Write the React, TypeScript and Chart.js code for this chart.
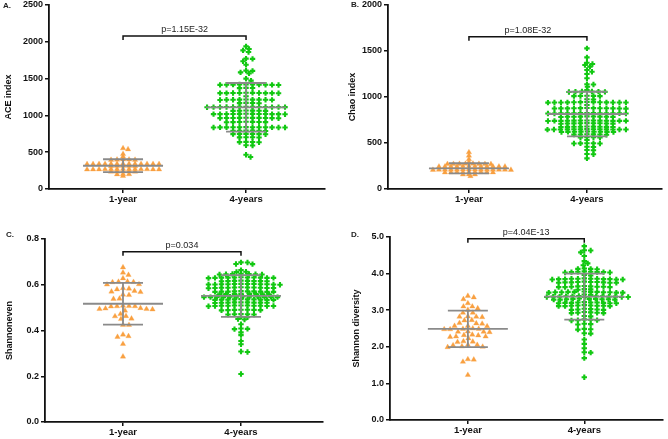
import React, { useEffect, useRef } from "react";
import { Chart, registerables } from "chart.js";

Chart.register(...registerables);

// ---------------- data ----------------
const categories = ["1-year", "4-years"];

// A. ACE index
const aceYear1 = [553, 539, 475, 439, 400, 398, 395, 402, 396,
  342, 340, 338, 341, 339, 343, 340, 337, 341, 339, 342, 338, 340,
  314, 311, 313, 310, 312,
  270, 268, 266, 269, 267, 271, 268, 265, 269, 267, 270, 266, 268,
  238, 236, 234, 237, 235, 202, 199, 201, 177];
const aceYear4 = [1938, 1902, 1884, 1861, 1771, 1768, 1735, 1689, 1608, 1605, 1585, 1571, 1499, 1472,
  1418, 1415, 1420, 1416, 1419, 1414, 1417, 1421, 1415, 1418,
  1372, 1370, 1374,
  1305, 1302, 1306, 1303, 1304, 1301, 1307, 1303, 1305, 1302,
  1260,
  1214, 1212, 1215, 1211, 1213, 1216, 1210, 1213, 1214,
  1168, 1166, 1170, 1167,
  1115, 1112, 1116, 1113, 1114, 1111, 1117, 1114, 1112, 1115, 1113, 1116, 1112,
  1065, 1062, 1066, 1063, 1064, 1061,
  1020, 1018, 1021, 1017, 1019, 1022, 1016, 1019, 1020, 1018, 1021, 1017,
  966, 963, 967, 964, 965, 962, 968, 964, 966, 963,
  911, 908, 912, 909, 910, 907, 913,
  839, 836, 840, 837, 838, 835, 841, 837, 839, 836, 840, 837,
  793, 790, 794, 791, 792, 789,
  748, 745, 749, 746, 747, 744,
  703, 700, 704, 701,
  639, 636, 640, 637,
  595, 592,
  466, 435];
const aceMean = [316, 1110];
const aceSD = [88, 330];

// B. Chao index
const chaoYear1 = [399, 362, 323, 290,
  274, 271, 273, 270, 272, 275, 271, 273,
  246, 244, 247, 243, 245, 248, 244, 246, 243, 247, 245, 244,
  211, 209, 212, 208, 210, 213, 209, 211, 208, 212, 210, 209, 211, 210,
  183, 181, 184, 180, 182, 185, 181, 183, 182,
  159, 157, 158, 140];
const chaoYear4 = [1529, 1431, 1373, 1359, 1348, 1330, 1293, 1275, 1250, 1203, 1138, 1136, 1112, 1076,
  1059, 1056, 1060, 1057, 1058, 1055,
  1012, 1009, 1013, 1010, 1011,
  976, 973,
  943, 940, 944, 941, 942, 939, 945, 941, 943, 940, 944, 941, 942,
  913,
  878, 875, 879, 876, 877, 874, 880, 876, 878, 875, 879, 876,
  824, 821, 825, 822, 823, 820, 826, 822, 824, 821, 825, 822, 823,
  787, 784, 788, 785, 786, 783, 789, 785, 787,
  743, 740, 744, 741, 742, 739, 745, 741, 743, 740, 744, 741, 742,
  714, 711, 715, 712, 713, 710, 716, 712, 714,
  677, 674, 678, 675, 676, 673, 679, 675, 677,
  649, 646, 650, 647, 648, 645, 651, 647, 649, 646, 650, 647, 648,
  623, 620, 624, 621, 622, 619, 625, 621, 623,
  594, 591, 595, 592, 593, 590,
  562, 559, 563, 560,
  533,
  497, 494, 498, 495, 496,
  460, 457, 424, 421, 380, 377, 333];
const chaoMean = [225, 815];
const chaoSD = [55, 242];

// C. Shannoneven
const evenYear1 = [0.676, 0.653, 0.643, 0.628, 0.612, 0.613, 0.611, 0.614, 0.602, 0.601,
  0.585, 0.583, 0.580, 0.570, 0.568, 0.573, 0.557, 0.555, 0.538, 0.539,
  0.507, 0.505, 0.506, 0.506, 0.508, 0.494, 0.492, 0.496, 0.498, 0.494,
  0.487, 0.472, 0.463, 0.462, 0.450, 0.452, 0.424, 0.424,
  0.382, 0.375, 0.372, 0.341, 0.286];
const evenYear4 = [0.698, 0.697, 0.691, 0.690, 0.664, 0.657, 0.656,
  0.646, 0.647, 0.645, 0.646, 0.648, 0.645, 0.647,
  0.631, 0.630, 0.632, 0.631, 0.629, 0.633, 0.630, 0.632, 0.631, 0.630, 0.632,
  0.616, 0.617, 0.615, 0.616, 0.618, 0.615, 0.617, 0.616,
  0.602, 0.601, 0.603, 0.602, 0.600, 0.604, 0.601, 0.603, 0.602, 0.601, 0.603, 0.602,
  0.587, 0.586, 0.588, 0.587, 0.585, 0.589, 0.586, 0.588, 0.587, 0.586, 0.588,
  0.570, 0.571, 0.569, 0.570, 0.572, 0.569, 0.571, 0.570, 0.569, 0.571,
  0.559, 0.558, 0.560, 0.559, 0.558, 0.560, 0.559, 0.558,
  0.547, 0.548, 0.546, 0.547, 0.549, 0.546, 0.548, 0.547, 0.546, 0.548, 0.547, 0.548,
  0.535, 0.536, 0.534, 0.535, 0.537, 0.534, 0.536, 0.535, 0.534, 0.536,
  0.522, 0.521, 0.523, 0.522, 0.520, 0.523, 0.521, 0.522, 0.523,
  0.508, 0.507, 0.509, 0.508, 0.506, 0.509, 0.507, 0.508, 0.509, 0.507, 0.508,
  0.490, 0.489, 0.491, 0.490, 0.488, 0.491, 0.489,
  0.471, 0.470, 0.472, 0.471, 0.470,
  0.460, 0.458, 0.450, 0.448, 0.427, 0.407, 0.406, 0.409, 0.392, 0.380, 0.354, 0.340, 0.308, 0.306, 0.210];
const evenMean = [0.517, 0.551];
const evenSD = [0.091, 0.091];

// D. Shannon diversity
const divYear1 = [3.39, 3.35, 3.30, 3.19, 3.10, 3.10, 3.05, 3.01, 2.93, 2.93,
  2.82, 2.82, 2.83, 2.81, 2.73, 2.72, 2.64, 2.65, 2.63, 2.57, 2.56, 2.57,
  2.49, 2.48, 2.49, 2.50, 2.48, 2.41, 2.40, 2.41, 2.42, 2.32, 2.33, 2.31,
  2.28, 2.27, 2.28, 2.23, 2.14, 2.15, 2.13, 2.05, 2.04, 2.05, 2.00, 2.01, 1.99,
  1.66, 1.65, 1.59, 1.23];
const divYear4 = [4.75, 4.64, 4.63, 4.58, 4.48, 4.34, 4.28, 4.23,
  4.13, 4.12, 4.14, 4.13,
  4.04, 4.05, 4.03, 4.04, 4.06, 4.03, 4.05, 4.04,
  3.96, 3.95,
  3.85, 3.86, 3.84, 3.85, 3.87, 3.84, 3.86, 3.85, 3.84, 3.86, 3.85, 3.86,
  3.76, 3.77, 3.75, 3.76, 3.78, 3.75, 3.77, 3.76, 3.75, 3.77,
  3.64, 3.65, 3.63, 3.64, 3.66, 3.63, 3.65, 3.64, 3.63,
  3.57, 3.58, 3.56,
  3.49, 3.50, 3.48, 3.49, 3.51, 3.48, 3.50, 3.49, 3.48, 3.50, 3.49, 3.50,
  3.43, 3.42,
  3.37, 3.38, 3.36, 3.37, 3.39, 3.36, 3.38, 3.37, 3.36, 3.38, 3.37, 3.38, 3.36,
  3.30, 3.31, 3.29, 3.30, 3.32, 3.29, 3.31, 3.30, 3.29, 3.31,
  3.20, 3.21, 3.19, 3.20, 3.22, 3.19, 3.21, 3.20, 3.19, 3.21,
  3.12, 3.13, 3.11, 3.12, 3.14, 3.11, 3.13, 3.12, 3.11,
  3.02, 3.03, 3.01, 3.02, 3.04, 3.01,
  2.93, 2.94, 2.92, 2.93, 2.95, 2.92,
  2.84, 2.83,
  2.73, 2.74, 2.72, 2.73, 2.75,
  2.62, 2.63, 2.61,
  2.48, 2.49, 2.47,
  2.37, 2.36,
  2.20, 2.08, 1.96, 1.84, 1.85, 1.69, 1.17];
const divMean = [2.49, 3.37];
const divSD = [0.50, 0.63];

// ---------------- styles / layout ----------------
const FONT = '"Liberation Sans", Arial, Helvetica, sans-serif';
const ORANGE = "#F9A040";
const GREEN = "#12C812";
const BAR_GREY = "#8a8a8a";
const MEAN_HALF = 40;
const SD_HALF = 20;
const ORANGE_STEP = 5.8;
const GREEN_STEP = 6.3;

type Panel = {
  letter: string; title: string; g1: number[]; g2: number[]; mean: number[]; sd: number[];
  pText: string; bracket: number; yMax: number; yStep: number; dec: number;
  left: number; top: number; width: number; height: number;
  yAxisW: number; xAxisH: number; padTop: number; padRight: number; titlePad: number;
  xMin: number; xMax: number; letterX: number; letterY: number; syOrange: number; syGreen: number;
};

const PANELS: Panel[] = [
  { letter: "A.", title: "ACE index", g1: aceYear1, g2: aceYear4, mean: aceMean, sd: aceSD,
    pText: "p=1.15E-32", bracket: 2080, yMax: 2500, yStep: 500, dec: 0,
    left: 0, top: 0, width: 334, height: 220, yAxisW: 49, xAxisH: 31, padTop: 5, padRight: 9, titlePad: 3.3,
    xMin: 0.398, xMax: 2.642, letterX: 3, letterY: 6, syOrange: 1.8, syGreen: 3.0 },
  { letter: "B.", title: "Chao index", g1: chaoYear1, g2: chaoYear4, mean: chaoMean, sd: chaoSD,
    pText: "p=1.08E-32", bracket: 1655, yMax: 2000, yStep: 500, dec: 0,
    left: 334, top: 0, width: 334, height: 220, yAxisW: 54, xAxisH: 31, padTop: 5, padRight: 6, titlePad: 13.3,
    xMin: 0.314, xMax: 2.636, letterX: 17, letterY: 5, syOrange: 1.8, syGreen: 2.4 },
  { letter: "C.", title: "Shannoneven", g1: evenYear1, g2: evenYear4, mean: evenMean, sd: evenSD,
    pText: "p=0.034", bracket: 0.744, yMax: 0.8, yStep: 0.2, dec: 1,
    left: 0, top: 220, width: 334, height: 219, yAxisW: 45, xAxisH: 17, padTop: 19, padRight: 11, titlePad: 4.6,
    xMin: 0.339, xMax: 2.695, letterX: 6, letterY: 15, syOrange: 5, syGreen: 2.6 },
  { letter: "D.", title: "Shannon diversity", g1: divYear1, g2: divYear4, mean: divMean, sd: divSD,
    pText: "p=4.04E-13", bracket: 4.95, yMax: 5, yStep: 1, dec: 1,
    left: 334, top: 220, width: 334, height: 219, yAxisW: 56, xAxisH: 19, padTop: 17, padRight: 1, titlePad: 17,
    xMin: 0.331, xMax: 2.678, letterX: 17, letterY: 15, syOrange: 5, syGreen: 2.5 },
];

// scatter-dot layout: each point keeps its value; a point is pushed sideways
// until it is clear of the elliptical footprint (sx by sy pixels) of placed points.
function swarm(values: number[], center: number, pxX: number, pxY: number, sx: number, sy: number) {
  const sorted = values.slice().sort((a, b) => b - a);
  const placed: { ox: number; py: number }[] = [];
  const pts: { x: number; y: number }[] = [];
  for (const v of sorted) {
    const py = v * pxY;
    let chosen = 0;
    for (let k = 0; k < 400; k++) {
      const cands = k === 0 ? [0] : [k * 0.5, -k * 0.5];
      let found = false;
      for (const ox of cands) {
        const hit = placed.some((q) => {
          const dx = (q.ox - ox) / sx;
          const dy = (q.py - py) / sy;
          return dx * dx + dy * dy < 0.999;
        });
        if (!hit) { chosen = ox; found = true; break; }
      }
      if (found) break;
    }
    placed.push({ ox: chosen, py });
    pts.push({ x: center + chosen / pxX, y: v });
  }
  return pts;
}

function makeOverlay(p: Panel) {
  return {
    id: "overlay",
    afterDatasetsDraw(chart: any) {
      const ctx = chart.ctx as CanvasRenderingContext2D;
      const xs = chart.scales.x;
      const ys = chart.scales.y;
      ctx.save();
      ctx.strokeStyle = BAR_GREY;
      ctx.lineWidth = 1.8;
      p.mean.forEach((m, i) => {
        const cx = xs.getPixelForValue(i + 1);
        const ym = ys.getPixelForValue(m);
        const yu = ys.getPixelForValue(m + p.sd[i]);
        const yl = ys.getPixelForValue(m - p.sd[i]);
        ctx.beginPath();
        ctx.moveTo(cx - MEAN_HALF, ym); ctx.lineTo(cx + MEAN_HALF, ym);
        ctx.moveTo(cx - SD_HALF, yu); ctx.lineTo(cx + SD_HALF, yu);
        ctx.moveTo(cx - SD_HALF, yl); ctx.lineTo(cx + SD_HALF, yl);
        ctx.moveTo(cx, yu); ctx.lineTo(cx, yl);
        ctx.stroke();
      });
      const bx1 = xs.getPixelForValue(1);
      const bx2 = xs.getPixelForValue(2);
      const by = ys.getPixelForValue(p.bracket);
      ctx.strokeStyle = "#111";
      ctx.lineWidth = 1.5;
      ctx.beginPath();
      ctx.moveTo(bx1, by + 4); ctx.lineTo(bx1, by); ctx.lineTo(bx2, by); ctx.lineTo(bx2, by + 4);
      ctx.stroke();
      ctx.fillStyle = "#222";
      ctx.font = `9px ${FONT}`;
      ctx.textAlign = "center";
      ctx.textBaseline = "alphabetic";
      ctx.fillText(p.pText, (bx1 + bx2) / 2, by - 4);
      ctx.font = `bold 8px ${FONT}`;
      ctx.textAlign = "left";
      ctx.textBaseline = "middle";
      ctx.fillText(p.letter, p.letterX, p.letterY);
      ctx.restore();
    },
  };
}

function buildConfig(p: Panel): any {
  const plotW = p.width - p.yAxisW - p.padRight;
  const plotH = p.height - p.padTop - p.xAxisH;
  const pxX = plotW / (p.xMax - p.xMin);
  const pxY = plotH / p.yMax;
  const tickFont = { family: FONT, size: 9, weight: "bold" as const };
  return {
    type: "scatter",
    data: {
      datasets: [
        { data: swarm(p.g1, 1, pxX, pxY, ORANGE_STEP, p.syOrange), pointStyle: "triangle", pointRadius: 3.1,
          pointHoverRadius: 3.1, backgroundColor: ORANGE, borderColor: ORANGE, borderWidth: 0.3 },
        { data: swarm(p.g2, 2, pxX, pxY, GREEN_STEP, p.syGreen), pointStyle: "cross", pointRadius: 2.7,
          pointHoverRadius: 2.7, backgroundColor: GREEN, borderColor: GREEN, borderWidth: 2.1 },
      ],
    },
    options: {
      animation: false,
      responsive: false,
      devicePixelRatio: 1,
      events: [],
      layout: { padding: { left: 0, top: p.padTop, right: p.padRight, bottom: 0 } },
      plugins: { legend: { display: false }, tooltip: { enabled: false } },
      scales: {
        x: {
          type: "linear",
          min: p.xMin,
          max: p.xMax,
          afterBuildTicks: (s: any) => { s.ticks = categories.map((_, i) => ({ value: i + 1 })); },
          ticks: {
            callback: (v: number) => categories[Math.round(v) - 1] ?? "",
            font: { family: FONT, size: 9.5, weight: "bold" },
            color: "#111", padding: 1, maxRotation: 0, autoSkip: false,
          },
          grid: { drawOnChartArea: false, drawTicks: true, tickLength: 4, color: "#111", lineWidth: 1.5 },
          border: { display: true, color: "#111", width: 1.8 },
          afterFit: (s: any) => { s.height = p.xAxisH; s.paddingLeft = 0; s.paddingRight = 0; },
        },
        y: {
          type: "linear",
          min: 0,
          max: p.yMax,
          ticks: {
            stepSize: p.yStep,
            callback: (v: number) => Number(v).toFixed(p.dec),
            font: tickFont, color: "#111", padding: 2,
          },
          title: {
            display: true, text: p.title, color: "#111",
            font: { family: FONT, size: 9, weight: "bold" },
            padding: { top: p.titlePad, bottom: 0 },
          },
          grid: { drawOnChartArea: false, drawTicks: true, tickLength: 4, color: "#111", lineWidth: 1.5 },
          border: { display: true, color: "#111", width: 1.8 },
          afterFit: (s: any) => { s.width = p.yAxisW; s.paddingTop = 0; s.paddingBottom = 0; },
        },
      },
    },
    plugins: [makeOverlay(p)],
  };
}

export default function App() {
  const refs = useRef<(HTMLCanvasElement | null)[]>([]);
  useEffect(() => {
    const charts = PANELS.map((p, i) => new Chart(refs.current[i] as HTMLCanvasElement, buildConfig(p)));
    return () => charts.forEach((c) => c.destroy());
  }, []);
  return (
    <div style={{ position: "absolute", left: 0, top: 0, width: 668, height: 439, background: "#fff" }}>
      {PANELS.map((p, i) => (
        <canvas
          key={p.letter}
          ref={(el) => { refs.current[i] = el; }}
          width={p.width}
          height={p.height}
          style={{ position: "absolute", left: p.left, top: p.top, width: p.width, height: p.height }}
        />
      ))}
    </div>
  );
}
